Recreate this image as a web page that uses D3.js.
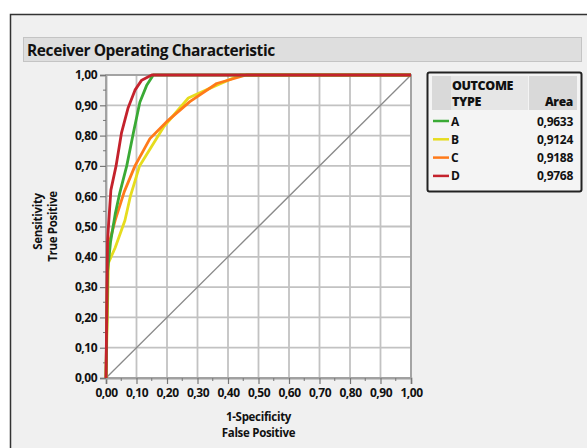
<!DOCTYPE html>
<html>
<head>
<meta charset="utf-8">
<script src="https://cdn.jsdelivr.net/npm/d3@7"></script>
<style>
  body { margin: 0; background: #fff; }
  svg { display: block; font-family: "Open Sans", "DejaVu Sans", sans-serif; }
</style>
</head>
<body>
<div id="chart"></div>
<script>
// data
var seriesNames = ["A", "B", "C", "D"];
var areas = ["0,9633", "0,9124", "0,9188", "0,9768"];
var colors = ["#3aaa35", "#e6dc1e", "#ff7a1a", "#c4222c"];

var fprA = [0, 0.005, 0.015, 0.03, 0.045, 0.068, 0.09, 0.111, 0.133, 0.155, 1];
var tprA = [0, 0.35, 0.45, 0.54, 0.61, 0.70, 0.81, 0.91, 0.965, 1, 1];

var fprB = [0, 0.008, 0.03, 0.062, 0.08, 0.095, 0.11, 0.19, 0.27, 0.36, 0.44, 1];
var tprB = [0, 0.38, 0.43, 0.52, 0.60, 0.65, 0.70, 0.83, 0.924, 0.965, 1, 1];

var fprC = [0, 0.005, 0.013, 0.03, 0.06, 0.095, 0.144, 0.199, 0.275, 0.363, 0.46, 1];
var tprC = [0, 0.38, 0.455, 0.52, 0.615, 0.70, 0.79, 0.846, 0.912, 0.972, 1, 1];

var fprD = [0, 0.005, 0.008, 0.016, 0.033, 0.051, 0.072, 0.095, 0.117, 0.15, 1];
var tprD = [0, 0.45, 0.50, 0.62, 0.70, 0.81, 0.89, 0.95, 0.983, 1, 1];

var tickValues = [0, 0.1, 0.2, 0.3, 0.4, 0.5, 0.6, 0.7, 0.8, 0.9, 1];
var minorTicks = [0.05, 0.15, 0.25, 0.35, 0.45, 0.55, 0.65, 0.75, 0.85, 0.95];

var svgWidth = 587;
var svgHeight = 448;

var plot = { left: 106, top: 75, width: 305, height: 303 };

var svg = d3.select("#chart")
  .append("svg")
  .attr("width", svgWidth)
  .attr("height", svgHeight);

// outer panel
svg.append("rect")
  .attr("x", 10.5).attr("y", 14.5)
  .attr("width", 600).attr("height", 460)
  .attr("fill", "#f0f0f0")
  .attr("stroke", "#333")
  .attr("stroke-width", 1.5);

// title bar
svg.append("rect")
  .attr("x", 23.5).attr("y", 37.5)
  .attr("width", 558).attr("height", 24)
  .attr("fill", "#dedede")
  .attr("stroke", "#c4c4c4");

svg.append("text")
  .attr("x", 27).attr("y", 55.5)
  .style("font-size", "15.5px")
  .style("font-weight", "700")
  .style("letter-spacing", "-0.4px")
  .attr("fill", "#111")
  .text("Receiver Operating Characteristic");

var x = d3.scaleLinear().domain([0, 1]).range([0, plot.width]);
var y = d3.scaleLinear().domain([0, 1]).range([plot.height, 0]);

var chartGroup = svg.append("g")
  .attr("transform", `translate(${plot.left}, ${plot.top})`);

chartGroup.append("rect")
  .attr("width", plot.width)
  .attr("height", plot.height)
  .attr("fill", "#fff");

// grid
chartGroup.selectAll(".vgrid")
  .data(tickValues)
  .enter()
  .append("line")
  .attr("x1", d => x(d)).attr("x2", d => x(d))
  .attr("y1", 0).attr("y2", plot.height)
  .attr("stroke", "#c2c2c2")
  .attr("stroke-width", 1.8);

chartGroup.selectAll(".hgrid")
  .data(tickValues)
  .enter()
  .append("line")
  .attr("y1", d => y(d)).attr("y2", d => y(d))
  .attr("x1", 0).attr("x2", plot.width)
  .attr("stroke", "#c2c2c2")
  .attr("stroke-width", 1.8);

chartGroup.append("rect")
  .attr("width", plot.width)
  .attr("height", plot.height)
  .attr("fill", "none")
  .attr("stroke", "#a0a0a0")
  .attr("stroke-width", 1.8);

var fmt = d => d3.format(".2f")(d).replace(".", ",");

// axes
var bottomAxis = d3.axisBottom(x).tickValues(tickValues).tickFormat(fmt).tickSize(6).tickPadding(4);
var leftAxis = d3.axisLeft(y).tickValues(tickValues).tickFormat(fmt).tickSize(6).tickPadding(3);

var xAxis = chartGroup.append("g")
  .attr("transform", `translate(0, ${plot.height})`)
  .call(bottomAxis);

var yAxis = chartGroup.append("g")
  .call(leftAxis);

[xAxis, yAxis].forEach(function(g) {
  g.select(".domain").attr("stroke", "#a0a0a0").attr("stroke-width", 1.8);
  g.selectAll(".tick line").attr("stroke", "#777").attr("stroke-width", 1.2);
  g.selectAll(".tick text")
    .attr("fill", "#111")
    .style("font-size", "12px")
    .style("font-weight", "700")
    .style("letter-spacing", "-0.5px")
    .style("font-family", "'Open Sans', sans-serif");
});

xAxis.selectAll(".minor")
  .data(minorTicks)
  .enter()
  .append("line")
  .attr("x1", d => x(d)).attr("x2", d => x(d))
  .attr("y1", 0).attr("y2", 3)
  .attr("stroke", "#777");

yAxis.selectAll(".minor")
  .data(minorTicks)
  .enter()
  .append("line")
  .attr("y1", d => y(d)).attr("y2", d => y(d))
  .attr("x1", 0).attr("x2", -3)
  .attr("stroke", "#777");

// reference diagonal
chartGroup.append("line")
  .attr("x1", x(0)).attr("y1", y(0))
  .attr("x2", x(1)).attr("y2", y(1))
  .attr("stroke", "#8a8a8a")
  .attr("stroke-width", 1.3);

// curves
var curves = [
  { name: "B", fpr: fprB, tpr: tprB, color: colors[1] },
  { name: "C", fpr: fprC, tpr: tprC, color: colors[2] },
  { name: "A", fpr: fprA, tpr: tprA, color: colors[0] },
  { name: "D", fpr: fprD, tpr: tprD, color: colors[3] }
];

var line = d3.line()
  .x(d => x(d[0]))
  .y(d => y(d[1]));

curves.forEach(function(c) {
  var pts = c.fpr.map((f, i) => [f, c.tpr[i]]);
  chartGroup.append("path")
    .datum(pts)
    .attr("d", line)
    .attr("fill", "none")
    .attr("stroke", c.color)
    .attr("stroke-width", 2.8)
    .attr("stroke-linejoin", "round");
});

// axis titles
var yTitle = svg.append("g")
  .attr("transform", `translate(0, ${plot.top + plot.height / 2})`)
  .style("font-size", "11.5px")
  .style("font-weight", "700")
  .style("letter-spacing", "-0.3px")
  .attr("fill", "#111")
  .attr("text-anchor", "middle");

yTitle.append("text")
  .attr("transform", "translate(42, -5) rotate(-90)")
  .text("Sensitivity");
yTitle.append("text")
  .attr("transform", "translate(57, 0) rotate(-90)")
  .text("True Positive");

svg.append("text")
  .attr("x", plot.left + plot.width / 2).attr("y", 421)
  .attr("text-anchor", "middle")
  .style("font-size", "11.5px")
  .style("font-weight", "700")
  .style("letter-spacing", "-0.3px")
  .attr("fill", "#111")
  .text("1-Specificity");

svg.append("text")
  .attr("x", plot.left + plot.width / 2).attr("y", 437)
  .attr("text-anchor", "middle")
  .style("font-size", "11.5px")
  .style("font-weight", "700")
  .style("letter-spacing", "-0.3px")
  .attr("fill", "#111")
  .text("False Positive");

// legend
var legend = svg.append("g");

legend.append("rect")
  .attr("x", 427.5).attr("y", 72.5)
  .attr("width", 154).attr("height", 119)
  .attr("rx", 2)
  .attr("fill", "#f4f4f4")
  .attr("stroke", "#222")
  .attr("stroke-width", 2);

legend.append("rect")
  .attr("x", 432).attr("y", 76).attr("width", 19).attr("height", 34)
  .attr("fill", "#d9d9d9");
legend.append("rect")
  .attr("x", 451).attr("y", 76).attr("width", 77).attr("height", 34)
  .attr("fill", "#e6e6e6");
legend.append("rect")
  .attr("x", 529).attr("y", 76).attr("width", 48).attr("height", 34)
  .attr("fill", "#d9d9d9");

legend.append("text")
  .attr("x", 452).attr("y", 89.5)
  .style("font-size", "12.5px").style("font-weight", "800")
  .style("letter-spacing", "-0.4px")
  .attr("fill", "#111")
  .text("OUTCOME");
legend.append("text")
  .attr("x", 452).attr("y", 106)
  .style("font-size", "12.5px").style("font-weight", "800")
  .style("letter-spacing", "-0.4px")
  .attr("fill", "#111")
  .text("TYPE");
legend.append("text")
  .attr("x", 573).attr("y", 106)
  .attr("text-anchor", "end")
  .style("font-size", "12px").style("font-weight", "800")
  .style("letter-spacing", "-0.3px")
  .attr("fill", "#111")
  .text("Area");

var rows = legend.selectAll(".row")
  .data(seriesNames)
  .enter()
  .append("g")
  .attr("transform", (d, i) => `translate(0, ${121 + i * 18.3})`);

rows.append("line")
  .attr("x1", 433).attr("x2", 449)
  .attr("y1", 0).attr("y2", 0)
  .attr("stroke", (d, i) => colors[i])
  .attr("stroke-width", 2.5);

rows.append("text")
  .attr("x", 451).attr("y", 4.5)
  .style("font-size", "12px").style("font-weight", "700")
  .attr("fill", "#111")
  .text(d => d);

rows.append("text")
  .attr("x", 573).attr("y", 4.5)
  .attr("text-anchor", "end")
  .style("font-size", "12px").style("font-weight", "700")
  .style("letter-spacing", "-0.3px")
  .attr("fill", "#111")
  .text((d, i) => areas[i]);
</script>
</body>
</html>
